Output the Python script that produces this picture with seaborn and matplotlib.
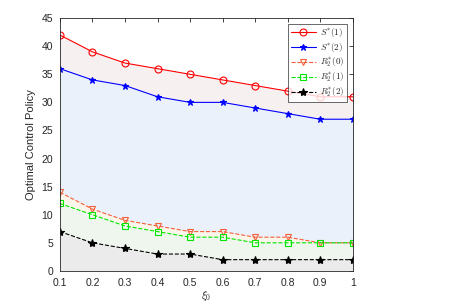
import numpy as np
import pandas as pd
import matplotlib
matplotlib.use('Agg')
import matplotlib.pyplot as plt
import seaborn as sns

# data
xi = [0.1, 0.2, 0.3, 0.4, 0.5, 0.6, 0.7, 0.8, 0.9, 1.0]
s1 = [42, 39, 37, 36, 35, 34, 33, 32, 31, 31]
s2 = [36, 34, 33, 31, 30, 30, 29, 28, 27, 27]
r0 = [14, 11, 9, 8, 7, 7, 6, 6, 5, 5]
r1 = [12, 10, 8, 7, 6, 6, 5, 5, 5, 5]
r2 = [7, 5, 4, 3, 3, 2, 2, 2, 2, 2]

labels = [r'$S^{*}(1)$', r'$S^{*}(2)$', r'$R_2^{*}(0)$', r'$R_2^{*}(1)$', r'$R_2^{*}(2)$']

sns.set_style('white')
plt.rcParams['font.family'] = ['Liberation Sans', 'DejaVu Sans']
plt.rcParams['mathtext.fontset'] = 'cm'

fig = plt.figure(figsize=(4.5, 3.02), dpi=100)
ax = fig.add_axes([0.133, 0.103, 0.651, 0.837])

# shaded bands between curves
ax.fill_between(xi, s2, s1, color='#f6f0f0', lw=0)
ax.fill_between(xi, r0, s2, color='#eaf1fa', lw=0)
ax.fill_between(xi, r1, r0, color='#fbf5ea', lw=0)
ax.fill_between(xi, r2, r1, color='#eef6ee', lw=0)
ax.fill_between(xi, 0, r2, color='#ebebeb', lw=0)

df = pd.DataFrame({'xi': xi, 's1': s1, 's2': s2, 'r0': r0, 'r1': r1, 'r2': r2})
styles = [
    ('s1', '#ff0000', '-', 'o', 'none', 5),
    ('s2', '#0000ff', '-', '*', '#0000ff', 5),
    ('r0', '#f5603a', '--', 'v', 'none', 5),
    ('r1', '#00e600', '--', 's', 'none', 4.5),
    ('r2', '#000000', '--', '*', '#000000', 6),
]
for (col, c, ls, m, mfc, ms), lab in zip(styles, labels):
    sns.lineplot(data=df, x='xi', y=col, ax=ax, color=c, linestyle=ls, marker=m,
                 markersize=ms, markerfacecolor=mfc, markeredgecolor=c,
                 markeredgewidth=0.8, linewidth=0.8, label=lab)

ax.set_xlim(0.1, 1.0)
ax.set_ylim(0, 45)
ax.set_xticks(xi)
ax.set_xticklabels(['0.1', '0.2', '0.3', '0.4', '0.5', '0.6', '0.7', '0.8', '0.9', '1'])
ax.set_yticks(range(0, 46, 5))
ax.tick_params(direction='in', length=3, labelsize=7.5, top=True, right=True,
               width=0.6, colors='#262626', pad=5)
for sp in ax.spines.values():
    sp.set_color('#262626')
    sp.set_linewidth(0.6)
ax.set_xlabel(r'$\xi_0$', fontsize=8, color='#262626', labelpad=1)
ax.set_ylabel('Optimal Control Policy', fontsize=8, color='#262626', labelpad=4)

leg = ax.legend(loc='upper right', fontsize=6.5, frameon=True, fancybox=False,
                edgecolor='#262626', handlelength=2.8, borderpad=0.3,
                labelspacing=0.2, borderaxespad=0.6, handletextpad=0.5)
leg.get_frame().set_linewidth(0.6)

fig.savefig('out.png', dpi=100)
